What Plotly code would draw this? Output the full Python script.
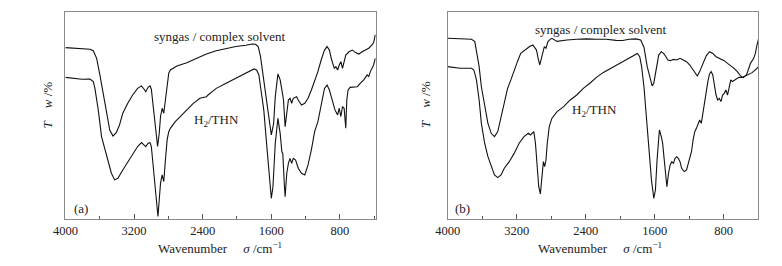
import plotly.graph_objects as go
from plotly.subplots import make_subplots

# ---------------- Panel (a) ----------------
a_syn_wn = [4000, 3885, 3808, 3713, 3675, 3636, 3598, 3560, 3522, 3483, 3445, 3407, 3369, 3331, 3273, 3216,
            3158, 3113, 3082, 3063, 3036, 3013, 2998, 2975, 2948, 2925, 2906, 2891, 2872, 2853, 2834, 2814,
            2795, 2776, 2700, 2585, 2470, 2356, 2241, 2126, 2012, 1897, 1821, 1782, 1752, 1725, 1668, 1629,
            1599, 1572, 1553, 1522, 1496, 1469, 1457, 1438, 1419, 1400, 1381, 1362, 1343, 1304, 1285, 1266,
            1247, 1209, 1171, 1132, 1094, 1056, 1018, 979, 949, 922, 895, 865, 846, 826, 807, 788, 769, 750,
            731, 693, 654, 616, 578, 540, 502, 463, 425, 406, 387]
a_syn_T = [82.8, 82.5, 82.3, 82.0, 81.3, 77.6, 69.6, 60.7, 51.1, 43.0, 40.1, 41.7, 45.4, 51.1, 55.9, 59.9,
           63.1, 64.3, 62.7, 61.5, 63.6, 64.3, 62.7, 54.3, 41.4, 35.0, 41.4, 49.5, 53.5, 51.1, 57.5, 65.6,
           70.4, 72.0, 73.9, 75.5, 77.6, 79.7, 81.3, 82.3, 83.3, 83.9, 84.5, 84.4, 83.3, 78.4, 60.7, 49.5,
           40.6, 46.2, 59.1, 70.1, 67.2, 60.7, 57.5, 44.6, 52.7, 57.5, 58.3, 55.9, 58.3, 59.1, 57.5, 55.9,
           55.1, 55.9, 58.3, 62.3, 66.4, 71.2, 76.8, 81.6, 83.3, 81.6, 76.8, 72.8, 73.6, 72.0, 74.4, 76.0, 72.8, 76.0,
           79.2, 80.8, 81.6, 80.4, 79.7, 80.8, 81.6, 82.5, 84.1, 85.2, 88.9]

a_thn_wn = [4000, 3885, 3808, 3713, 3675, 3656, 3617, 3579, 3548, 3503, 3464, 3426, 3388, 3331, 3273, 3216,
            3158, 3113, 3082, 3063, 3036, 3013, 2998, 2975, 2956, 2941, 2929, 2921, 2906, 2891, 2872, 2853,
            2834, 2814, 2795, 2776, 2719, 2662, 2585, 2509, 2432, 2356, 2337, 2241, 2126, 2012, 1935, 1897,
            1859, 1801, 1771, 1744, 1725, 1687, 1648, 1622, 1599, 1580, 1553, 1522, 1496, 1476, 1465, 1446,
            1438, 1419, 1400, 1381, 1362, 1343, 1316, 1285, 1247, 1209, 1171, 1132, 1113, 1094, 1056, 1037,
            1018, 979, 949, 922, 884, 857, 826, 807, 788, 769, 750, 731, 719, 704, 681, 635, 597, 559, 521,
            482, 463, 444, 425, 406, 387]
a_thn_T = [68.4, 67.8, 67.5, 67.6, 66.4, 63.1, 52.7, 39.8, 35.0, 28.5, 22.1, 18.9, 19.7, 23.7, 27.7, 31.7,
           35.0, 36.9, 35.8, 35.0, 36.6, 36.9, 35.0, 25.3, 15.6, 9.2, 2.8, 1.2, 9.2, 17.3, 21.3, 18.1,
           28.5, 38.2, 42.2, 43.8, 47.0, 49.4, 52.7, 55.9, 58.3, 59.1, 59.9, 63.1, 65.6, 68.0, 69.6, 70.1,
           71.2, 72.5, 72.0, 69.6, 63.9, 52.7, 33.4, 18.9, 10.0, 15.6, 36.6, 48.6, 41.4, 32.5, 31.7, 15.6,
           10.8, 22.1, 26.9, 29.3, 26.9, 29.3, 28.5, 24.5, 22.1, 21.3, 26.1, 33.4, 38.2, 42.2, 47.0, 51.1,
           55.9, 63.1, 64.7, 62.3, 56.7, 52.7, 50.3, 53.5, 49.5, 54.3, 53.5, 43.8, 57.5, 62.3, 63.6, 63.6, 63.9, 65.6, 67.2,
           69.6, 68.8, 71.2, 72.8, 74.4, 77.6]

# ---------------- Panel (b) ----------------
b_syn_wn = [4000, 3856, 3723, 3685, 3666, 3635, 3609, 3571, 3533, 3495, 3457, 3419, 3381, 3343, 3305, 3267,
            3229, 3191, 3153, 3096, 3050, 3012, 2989, 2970, 2951, 2932, 2913, 2898, 2879, 2860, 2837, 2811,
            2792, 2731, 2617, 2503, 2389, 2275, 2161, 2047, 1971, 1895, 1819, 1762, 1724, 1686, 1648, 1629,
            1610, 1583, 1553, 1523, 1496, 1469, 1447, 1420, 1382, 1344, 1306, 1268, 1230, 1192, 1154, 1127,
            1105, 1078, 1040, 1002, 964, 926, 888, 831, 793, 755, 717, 679, 641, 603, 573, 535, 508, 489, 451,
            432, 413, 394]
b_syn_T = [87.3, 87.0, 86.8, 85.7, 81.6, 73.6, 63.9, 54.3, 46.2, 41.4, 39.8, 42.2, 49.5, 57.5, 63.1, 67.2,
           72.0, 76.0, 80.0, 82.0, 83.3, 84.1, 82.5, 81.6, 77.6, 74.4, 77.6, 80.8, 83.3, 82.5, 85.7, 86.8,
           87.3, 85.8, 86.5, 86.8, 87.0, 86.8, 86.8, 86.3, 86.2, 86.8, 87.0, 86.5, 83.0, 73.6, 67.2, 64.3,
           65.6, 72.8, 79.2, 80.8, 80.0, 78.4, 76.8, 76.5, 77.1, 76.8, 77.6, 76.8, 76.0, 74.4, 72.0, 70.1,
           69.1, 71.2, 75.2, 78.8, 80.8, 80.0, 78.4, 77.1, 76.5, 75.2, 74.1, 72.8, 71.2, 69.1, 68.3, 69.6, 72.8, 75.2, 77.6,
           80.0, 84.1, 87.3]

b_thn_wn = [4000, 3856, 3723, 3696, 3666, 3635, 3609, 3571, 3533, 3495, 3457, 3419, 3381, 3343, 3286, 3229,
            3171, 3115, 3065, 3039, 3020, 3001, 2982, 2963, 2944, 2925, 2906, 2890, 2875, 2860, 2845, 2822,
            2792, 2731, 2655, 2579, 2503, 2427, 2351, 2275, 2199, 2123, 2047, 1971, 1895, 1838, 1800, 1773,
            1751, 1724, 1697, 1667, 1637, 1610, 1591, 1572, 1545, 1523, 1507, 1496, 1477, 1458, 1439, 1420,
            1401, 1382, 1363, 1344, 1325, 1306, 1287, 1257, 1230, 1211, 1173, 1154, 1135, 1116, 1097, 1078,
            1059, 1040, 1021, 1002, 983, 964, 945, 926, 907, 888, 869, 850, 831, 812, 793, 774, 755, 736,
            717, 698, 660, 622, 584, 546, 508, 470, 432, 413, 394]
b_thn_T = [73.6, 72.8, 72.8, 72.0, 67.2, 57.5, 46.2, 36.6, 30.1, 25.3, 21.3, 20.0, 21.3, 24.5, 27.7, 31.7,
           36.6, 39.8, 41.4, 40.6, 41.4, 42.2, 36.6, 23.7, 15.6, 12.1, 20.5, 27.7, 25.3, 28.5, 36.6, 44.6,
           48.6, 51.9, 54.3, 57.5, 59.9, 63.1, 65.6, 68.4, 70.7, 72.5, 74.4, 76.0, 77.6, 79.2, 80.0, 78.4,
           73.6, 63.9, 49.5, 33.4, 18.9, 10.0, 14.0, 28.5, 43.0, 39.8, 36.6, 31.7, 23.7, 15.6, 22.1, 26.1,
           27.7, 26.9, 29.3, 30.1, 29.3, 27.7, 24.5, 22.9, 23.7, 26.9, 32.5, 38.2, 42.2, 43.8, 46.2, 47.8,
           46.2, 51.9, 55.9, 60.7, 66.4, 70.1, 71.2, 69.6, 63.9, 59.9, 57.5, 58.3, 56.7, 59.9, 60.7, 62.3, 59.9, 63.9,
           67.2, 66.4, 67.5, 68.4, 68.4, 69.1, 70.1, 70.7, 72.0, 72.8, 73.6]

major_ticks = [4000, 3200, 2400, 1600, 800]
minor_ticks = [3600, 2800, 2000, 1200, 400]
label_syn = "syngas / complex solvent"
label_thn = "H<sub>2</sub>/THN"
panel_labels = ["(a)", "(b)"]

FONT = "Liberation Serif, Times New Roman, serif"
LINE = dict(color="#111111", width=1.1)

fig = make_subplots(rows=1, cols=2)
fig.add_trace(go.Scatter(x=a_syn_wn, y=a_syn_T, mode="lines", line=LINE, showlegend=False), 1, 1)
fig.add_trace(go.Scatter(x=a_thn_wn, y=a_thn_T, mode="lines", line=LINE, showlegend=False), 1, 1)
fig.add_trace(go.Scatter(x=b_syn_wn, y=b_syn_T, mode="lines", line=LINE, showlegend=False), 1, 2)
fig.add_trace(go.Scatter(x=b_thn_wn, y=b_thn_T, mode="lines", line=LINE, showlegend=False), 1, 2)

W, H = 782, 266
y0, y1 = (H - 219) / H, (H - 12) / H
xa = [53.3 / W, 369 / W]
xb = [442 / W, 758 / W]

xcommon = dict(
    tickmode="array", tickvals=major_ticks, ticks="inside", ticklen=5, tickcolor="#555",
    tickfont=dict(family=FONT, size=12.5, color="#222"),
    showline=True, mirror=True, linecolor="#8a8a8a", linewidth=1,
    showgrid=False, zeroline=False,
    minor=dict(tickvals=minor_ticks, ticks="inside", ticklen=3, tickcolor="#555", showgrid=False),
)
ycommon = dict(range=[0, 100], showticklabels=False, ticks="", showline=True, mirror=True,
               linecolor="#8a8a8a", linewidth=1, showgrid=False, zeroline=False)

fig.update_layout(
    width=W, height=H, margin=dict(l=0, r=0, t=0, b=0),
    paper_bgcolor="white", plot_bgcolor="white",
    xaxis=dict(domain=xa, range=[4000, 380], **xcommon),
    xaxis2=dict(domain=xb, range=[4000, 397], **xcommon),
    yaxis=dict(domain=[y0, y1], **ycommon),
    yaxis2=dict(domain=[y0, y1], **ycommon),
)

tf = dict(family=FONT, size=13, color="#222")
anns = [
    dict(x=2203, y=88.4, xref="x", yref="y", text=label_syn),
    dict(x=2243, y=47.8, xref="x", yref="y", text=label_thn),
    dict(x=3814, y=5.0, xref="x", yref="y", text=panel_labels[0]),
    dict(x=2225, y=91.6, xref="x2", yref="y2", text=label_syn),
    dict(x=2301, y=52.6, xref="x2", yref="y2", text=label_thn),
    dict(x=3823, y=5.0, xref="x2", yref="y2", text=panel_labels[1]),
]
for a in anns:
    fig.add_annotation(showarrow=False, font=tf, xanchor="center", yanchor="middle", **a)

xtitle = "Wavenumber\u00a0\u00a0\u00a0\u00a0\u00a0<i>σ</i> /cm<sup>−1</sup>"
ytitle = "<i>T</i>\u00a0\u00a0\u00a0\u00a0<i>w</i> /%"
for cx, yx in [(210, 35), (597, 419)]:
    fig.add_annotation(x=cx / W, y=(H - 248) / H, xref="paper", yref="paper", showarrow=False,
                       xanchor="center", yanchor="middle", text=xtitle, font=tf)
    fig.add_annotation(x=yx / W, y=(H - 105) / H, xref="paper", yref="paper", showarrow=False,
                       xanchor="center", yanchor="middle", text=ytitle, textangle=-90, font=tf)

fig.write_html("out.html", config={"displayModeBar": False},
               post_script="document.body.style.margin='0';document.body.style.overflow='hidden';")
